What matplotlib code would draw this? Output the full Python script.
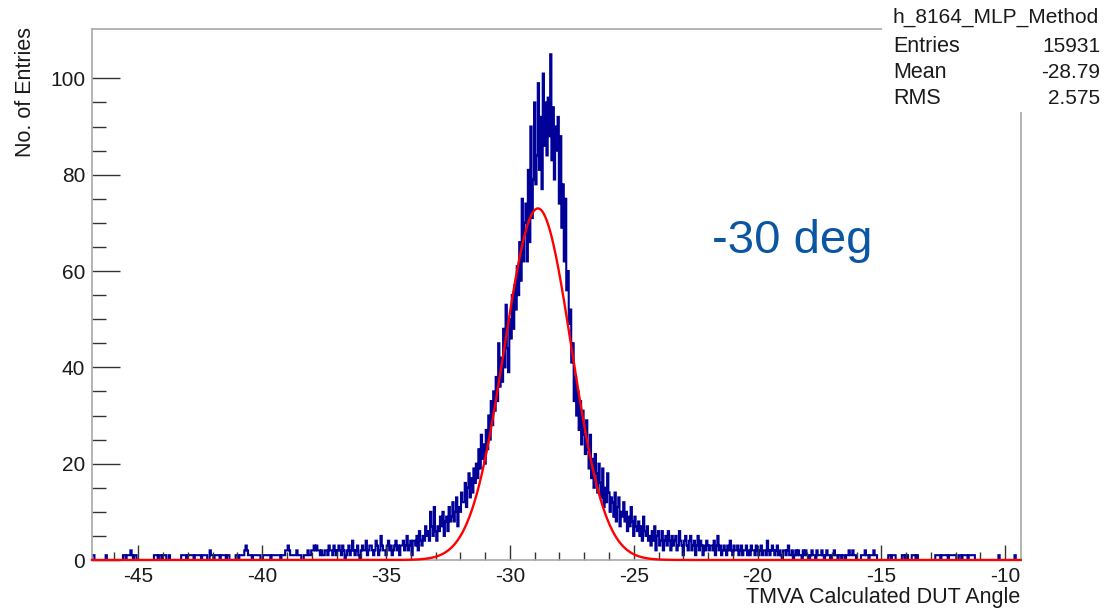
import numpy as np
import matplotlib
matplotlib.use("Agg")
from matplotlib import pyplot as plt
from matplotlib.patches import Rectangle
from matplotlib.ticker import MultipleLocator, FixedLocator

plt.rcParams['font.family'] = ['Liberation Sans', 'DejaVu Sans']
plt.rcParams['axes.unicode_minus'] = False

# histogram summary (stats box)
HIST_NAME = "h_8164_MLP_Method"
ENTRIES = 15931
MEAN = -28.79
RMS = 2.575

# binning of the MLP angle histogram
X_LOW = -46.875
BIN_WIDTH = 0.05

# gaussian fit parameters
FIT_CONSTANT = 73.0
FIT_MEAN = -28.87
FIT_SIGMA = 1.35

# bin contents, 50 bins (2.5 deg) per block of two lines
left_tail = [
    1, 1, 0, 0, 0, 0, 0, 0, 0, 0, 0, 1, 0, 0, 0, 0, 0, 0, 0, 0, 0, 0, 0, 0, 0,
    1, 1, 0, 1, 1, 1, 2, 1, 0, 1, 1, 0, 0, 0, 0, 0, 0, 0, 0, 0, 0, 0, 0, 0, 0,
    1, 1, 1, 0, 1, 1, 0, 1, 1, 1, 0, 0, 1, 0, 0, 0, 0, 0, 0, 0, 0, 0, 1, 1, 1,
    1, 0, 1, 1, 1, 1, 1, 0, 1, 1, 1, 1, 1, 0, 1, 1, 1, 1, 0, 0, 2, 1, 1, 0, 1,
    1, 1, 1, 0, 1, 1, 1, 1, 0, 1, 1, 0, 0, 0, 0, 0, 1, 1, 0, 1, 1, 1, 1, 2, 3,
    2, 1, 1, 1, 0, 1, 1, 1, 1, 1, 1, 0, 0, 1, 1, 1, 1, 1, 1, 0, 1, 1, 1, 1, 1,
    1, 1, 0, 1, 1, 1, 2, 2, 3, 2, 1, 1, 1, 1, 1, 2, 1, 1, 1, 0, 0, 1, 1, 1, 2,
    1, 1, 2, 2, 3, 2, 3, 2, 2, 1, 2, 1, 1, 2, 2, 1, 3, 2, 2, 1, 3, 2, 1, 2, 3,
]
left_rise = [
    2, 1, 3, 2, 0, 1, 2, 3, 1, 2, 4, 2, 1, 2, 3, 1, 0, 2, 3, 2, 2, 4, 1, 2, 3,
    3, 2, 1, 2, 4, 3, 1, 2, 5, 3, 2, 2, 1, 3, 4, 2, 3, 1, 2, 3, 4, 2, 3, 1, 3,
    3, 4, 2, 3, 5, 2, 3, 4, 1, 4, 4, 3, 5, 2, 6, 4, 3, 5, 4, 7, 5, 6, 4, 10, 7,
    5, 11, 6, 4, 7, 6, 9, 7, 10, 5, 8, 9, 6, 11, 8, 9, 12, 8, 10, 13, 7, 11, 10, 14, 12,
]
core = [
    12, 16, 11, 15, 18, 13, 17, 14, 19, 16, 20, 17, 23, 19, 26, 21, 24, 20, 27, 23, 30, 25, 33, 28, 35,
    31, 38, 33, 45, 36, 42, 37, 48, 40, 53, 44, 39, 50, 46, 55, 48, 57, 52, 61, 55, 66, 58, 75, 62, 70,
    74, 62, 81, 66, 90, 71, 79, 95, 78, 84, 99, 81, 92, 77, 101, 86, 95, 84, 96, 88, 105, 83, 94, 79, 90,
    85, 92, 74, 88, 69, 78, 62, 75, 56, 60, 49, 52, 41, 45, 33, 38, 30, 35, 27, 33, 24, 31, 26, 22, 29,
]
right_fall = [
    23, 19, 26, 17, 21, 15, 22, 18, 14, 20, 16, 13, 19, 11, 15, 12, 18, 14, 10, 13, 12, 9, 14, 8, 11,
    13, 7, 10, 9, 12, 8, 10, 6, 9, 7, 11, 8, 5, 9, 7, 6, 8, 5, 7, 4, 9, 6, 5, 7, 4,
    5, 3, 6, 4, 7, 2, 5, 6, 3, 4, 6, 2, 4, 5, 3, 6, 4, 2, 5, 3, 4, 5, 2, 3, 6,
    4, 3, 1, 4, 5, 3, 2, 4, 5, 2, 3, 4, 1, 3, 5, 2, 4, 3, 1, 3, 2, 4, 3, 2, 3,
]
right_tail = [
    3, 2, 4, 1, 3, 5, 2, 3, 1, 2, 3, 2, 1, 3, 2, 4, 2, 1, 3, 2, 2, 3, 1, 2, 3,
    1, 2, 2, 3, 1, 2, 1, 3, 2, 2, 1, 3, 2, 1, 2, 3, 1, 2, 2, 1, 4, 2, 1, 2, 3,
    2, 1, 2, 3, 1, 2, 1, 0, 2, 2, 1, 2, 3, 1, 1, 2, 0, 1, 2, 1, 2, 1, 1, 0, 2,
    1, 2, 1, 1, 0, 1, 2, 1, 1, 0, 2, 1, 1, 1, 2, 1, 0, 1, 2, 1, 1, 0, 1, 1, 2,
    1, 1, 0, 1, 1, 0, 1, 1, 0, 1, 1, 2, 1, 1, 2, 1, 1, 0, 0, 0, 0, 1, 1, 1, 2,
    1, 1, 0, 1, 1, 1, 2, 1, 1, 0, 0, 0, 0, 0, 0, 0, 0, 0, 1, 1, 0, 1, 1, 1, 0,
    0, 0, 0, 0, 1, 1, 0, 1, 1, 0, 0, 0, 1, 1, 1, 0, 1, 0, 0, 0, 0, 0, 0, 0, 0,
    0, 0, 0, 0, 0, 0, 1, 1, 1, 1, 0, 1, 1, 1, 1, 1, 0, 1, 1, 1, 1, 1, 1, 0, 0,
    1, 1, 0, 1, 1, 1, 1, 0, 1, 1, 1, 1, 1, 0, 0, 0, 0, 0, 0, 0, 0, 0, 0, 0, 0,
    0, 0, 0, 0, 0, 0, 0, 1, 0, 0, 0, 0, 0, 0, 0, 0, 0, 0, 0, 0, 1, 0, 0, 0, 0,
]

W, H = 1109, 610
HIST_COLOR = '#000099'
FRAME_COLOR = '#a8a8a8'
TEXT_COLOR = '#1a1a1a'

counts = np.array(left_tail + left_rise + core + right_fall + right_tail)
edges = X_LOW + BIN_WIDTH * np.arange(len(counts) + 1)

fig = plt.figure(figsize=(W / 100, H / 100), dpi=100)
ax = fig.add_axes([92 / W, 50 / H, 928.7 / W, 531 / H])

ax.stairs(counts, edges, color=HIST_COLOR, linewidth=1.5, baseline=0)

# fitted gaussian over the whole axis range, drawn over the bottom frame line
xs = np.linspace(edges[0], edges[-1], 2000)
ax.plot(xs, FIT_CONSTANT * np.exp(-0.5 * ((xs - FIT_MEAN) / FIT_SIGMA) ** 2),
        color='#ff0000', linewidth=1.7, zorder=4, clip_on=False)

ax.set_xlim(edges[0], edges[-1])
ax.set_ylim(0, 1.05 * counts.max())

ax.xaxis.set_major_locator(MultipleLocator(5))
ax.xaxis.set_minor_locator(MultipleLocator(1))
ax.yaxis.set_major_locator(MultipleLocator(20))
ax.yaxis.set_minor_locator(FixedLocator([v for v in range(5, 101, 5) if v % 20]))

ax.tick_params(axis='both', which='both', direction='in', colors='#333333',
               labelcolor=TEXT_COLOR, labelsize=15, top=False, right=False, width=1.0)
ax.tick_params(axis='x', which='major', length=11, pad=5)
ax.tick_params(axis='x', which='minor', length=5.5)
ax.tick_params(axis='y', which='major', length=20, pad=5)
ax.tick_params(axis='y', which='minor', length=10)
for spine in ax.spines.values():
    spine.set_color(FRAME_COLOR)
    spine.set_linewidth(1.2)

fig.text(26 / W, 1 - 27 / H, 'No. of Entries', rotation=90, ha='center', va='top',
         fontsize=15.5, color=TEXT_COLOR)
fig.text(1020 / W, 1 - 598 / H, 'TMVA Calculated DUT Angle', ha='right', va='center',
         fontsize=15.5, color=TEXT_COLOR)
fig.text(712 / W, 1 - 253 / H, '-30 deg', ha='left', va='baseline',
         fontsize=34, color='#0b56a3')

# stats box in the top right corner
fig.add_artist(Rectangle((882 / W, 1 - 112 / H), (W - 882) / W, 112 / H,
                         transform=fig.transFigure, facecolor='white',
                         edgecolor='none', zorder=5))
fig.text(996 / W, 1 - 17 / H, HIST_NAME, ha='center', va='center',
         fontsize=15, color=TEXT_COLOR, zorder=6)
stats_rows = [('Entries', f'{ENTRIES}'), ('Mean', f'{MEAN:.2f}'), ('RMS', f'{RMS:.3f}')]
for row, (label, value) in enumerate(stats_rows):
    y = 1 - (47 + 26 * row) / H
    fig.text(893 / W, y, label, ha='left', va='center', fontsize=15.5, color=TEXT_COLOR, zorder=6)
    fig.text(1100 / W, y, value, ha='right', va='center', fontsize=15, color=TEXT_COLOR, zorder=6)

fig.savefig('out.png', dpi=100)
